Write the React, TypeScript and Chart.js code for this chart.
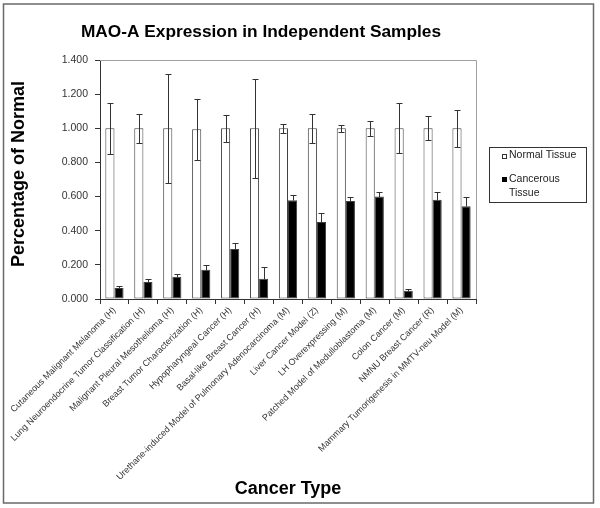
import React, { useEffect, useRef } from "react";
import { Chart, registerables } from "chart.js";

Chart.register(...registerables);

const categories = [
  "Cutaneous Malignant Melanoma (H)",
  "Lung Neuroendocrine Tumor Classification (H)",
  "Malignant Pleural Mesothelioma (H)",
  "Breast Tumor Characterization (H)",
  "Hypopharyngeal Cancer (H)",
  "Basal-like Breast Cancer (H)",
  "Urethane-induced Model of Pulmonary Adenocarcinoma (M)",
  "Liver Cancer Model (Z)",
  "LH Overexpressing (M)",
  "Patched Model of Medulloblastoma (M)",
  "Colon Cancer (M)",
  "NMNU Breast Cancer (R)",
  "Mammary Tumorigenesis in MMTV-neu Model (M)",
];

const normalValues = [1, 1, 1, 0.994, 1, 1, 1, 1, 1, 1, 1, 1, 1];
const normalErrors = [0.15, 0.085, 0.32, 0.18, 0.08, 0.29, 0.028, 0.085, 0.02, 0.045, 0.147, 0.07, 0.108];
const cancerValues = [0.065, 0.1, 0.131, 0.172, 0.293, 0.119, 0.578, 0.451, 0.574, 0.6, 0.049, 0.582, 0.543];
const cancerErrors = [0.01, 0.02, 0.015, 0.025, 0.033, 0.07, 0.03, 0.05, 0.022, 0.025, 0.01, 0.043, 0.053];

const seriesNames = ["Normal Tissue", "Cancerous Tissue"];
const titleText = "MAO-A Expression in Independent Samples";
const xTitle = "Cancer Type";
const yTitle = "Percentage of Normal";

const errorsBySeries = [normalErrors, cancerErrors];
const twoSided = [true, false];

const decorPlugin = {
  id: "decor",
  afterDatasetsDraw(chart: any) {
    const ctx = chart.ctx;
    const y = chart.scales.y;
    ctx.save();
    ctx.strokeStyle = "#333";
    ctx.lineWidth = 1;
    chart.data.datasets.forEach((ds: any, di: number) => {
      const meta = chart.getDatasetMeta(di);
      meta.data.forEach((bar: any, i: number) => {
        const v = ds.data[i];
        const e = errorsBySeries[di][i];
        const x = Math.round(bar.x) + 0.5;
        const yTop = Math.round(y.getPixelForValue(v + e)) + 0.5;
        const yBot = twoSided[di]
          ? Math.round(y.getPixelForValue(v - e)) + 0.5
          : Math.round(y.getPixelForValue(v)) + 0.5;
        ctx.beginPath();
        ctx.moveTo(x, yTop);
        ctx.lineTo(x, yBot);
        ctx.moveTo(x - 3, yTop);
        ctx.lineTo(x + 3, yTop);
        if (twoSided[di]) {
          ctx.moveTo(x - 3, yBot);
          ctx.lineTo(x + 3, yBot);
        }
        ctx.stroke();
      });
    });
    ctx.restore();
  },
  afterDraw(chart: any) {
    const ctx = chart.ctx;
    const a = chart.chartArea;
    ctx.save();
    // plot border top & right
    ctx.strokeStyle = "#a0a0a0";
    ctx.lineWidth = 1;
    ctx.beginPath();
    ctx.moveTo(a.left, Math.round(a.top) + 0.5);
    ctx.lineTo(Math.round(a.right) + 0.5, Math.round(a.top) + 0.5);
    ctx.lineTo(Math.round(a.right) + 0.5, a.bottom);
    ctx.stroke();

    // titles
    ctx.fillStyle = "#000";
    ctx.textAlign = "center";
    ctx.textBaseline = "middle";
    ctx.font = "bold 17.3px Arial, 'Liberation Sans', sans-serif";
    ctx.fillText(titleText, 261, 32);
    ctx.font = "bold 18px Arial, 'Liberation Sans', sans-serif";
    ctx.fillText(xTitle, 288, 489);
    ctx.save();
    ctx.translate(19, 174);
    ctx.rotate(-Math.PI / 2);
    ctx.fillText(yTitle, 0, 0);
    ctx.restore();

    // legend
    ctx.strokeStyle = "#333";
    ctx.strokeRect(489.5, 147.5, 97, 55);
    ctx.font = "10.5px Arial, 'Liberation Sans', sans-serif";
    ctx.textAlign = "left";
    ctx.fillStyle = "#fff";
    ctx.fillRect(502, 154, 4, 4);
    ctx.strokeStyle = "#333";
    ctx.strokeRect(502.5, 154.5, 4, 4);
    ctx.fillStyle = "#000";
    ctx.fillRect(502, 177, 5, 5);
    ctx.fillStyle = "#222";
    ctx.fillText(seriesNames[0], 509, 155);
    ctx.fillText("Cancerous", 509, 179);
    ctx.fillText("Tissue", 509, 193);

    // outer border
    ctx.strokeStyle = "#6a6a6a";
    ctx.lineWidth = 1.5;
    ctx.strokeRect(3.5, 4, 590, 499);
    ctx.restore();
  },
};

export default function App() {
  const ref = useRef<HTMLCanvasElement | null>(null);
  useEffect(() => {
    if (!ref.current) return;
    const chart = new Chart(ref.current, {
      type: "bar",
      data: {
        labels: categories,
        datasets: [
          {
            label: seriesNames[0],
            data: normalValues,
            backgroundColor: "#ffffff",
            borderColor: "#404040",
            borderWidth: 1,
            borderSkipped: false,
            categoryPercentage: 0.63,
            barPercentage: 1,
          },
          {
            label: seriesNames[1],
            data: cancerValues,
            backgroundColor: "#000000",
            borderColor: "#404040",
            borderWidth: 1,
            borderSkipped: false,
            categoryPercentage: 0.63,
            barPercentage: 1,
          },
        ],
      },
      options: {
        animation: false,
        responsive: false,
        layout: { padding: { top: 60, right: 124, left: 0, bottom: 0 } },
        plugins: {
          legend: { display: false },
          title: { display: false },
          tooltip: { enabled: false },
        },
        scales: {
          x: {
            offset: true,
            grid: {
              display: true,
              offset: true,
              drawOnChartArea: false,
              drawTicks: true,
              tickLength: 5,
              color: "#333",
            },
            border: { display: true, color: "#333" },
            ticks: {
              autoSkip: false,
              minRotation: 45,
              maxRotation: 45,
              padding: 1,
              color: "#333",
              font: { family: "Arial, 'Liberation Sans', sans-serif", size: 9 },
            },
            afterFit: (scale: any) => {
              scale.height = 209;
            },
          },
          y: {
            min: 0,
            max: 1.4,
            grid: {
              display: true,
              drawOnChartArea: false,
              drawTicks: true,
              tickLength: 5,
              color: "#333",
            },
            border: { display: true, color: "#333" },
            ticks: {
              stepSize: 0.2,
              padding: 7,
              color: "#333",
              font: { family: "Arial, 'Liberation Sans', sans-serif", size: 10.5 },
              callback: (v: any) => Number(v).toFixed(3),
            },
            afterFit: (scale: any) => {
              scale.width = 100;
            },
          },
        },
      },
      plugins: [decorPlugin],
    });
    return () => chart.destroy();
  }, []);
  return (
    <div style={{ position: "absolute", left: 0, top: 0, width: 600, height: 508, background: "#fff" }}>
      <canvas ref={ref} width={600} height={508} style={{ width: 600, height: 508, display: "block" }} />
    </div>
  );
}
